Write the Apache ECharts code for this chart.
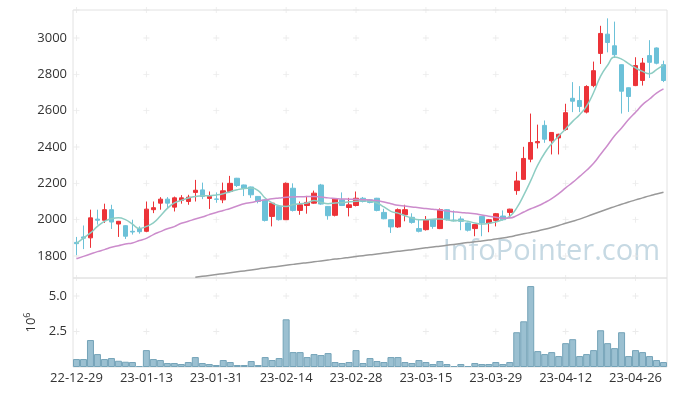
<!DOCTYPE html>
<html>
<head>
<meta charset="utf-8">
<script src="https://cdn.jsdelivr.net/npm/echarts@6/dist/echarts.min.js"></script>
<style>
html,body{margin:0;padding:0;background:#fff;}
#chart{width:677px;height:396px;}
</style>
</head>
<body>
<div id="chart"></div>
<script>
// ---- data ----
const dates = [
 '22-12-29','23-01-02','23-01-03','23-01-04','23-01-05','23-01-06','23-01-09','23-01-10','23-01-11','23-01-12',
 '23-01-13','23-01-16','23-01-17','23-01-18','23-01-19','23-01-20','23-01-25','23-01-26','23-01-27','23-01-30',
 '23-01-31','23-02-01','23-02-02','23-02-03','23-02-06','23-02-07','23-02-08','23-02-09','23-02-10','23-02-13',
 '23-02-14','23-02-15','23-02-16','23-02-17','23-02-20','23-02-21','23-02-22','23-02-23','23-02-24','23-02-27',
 '23-02-28','23-03-02','23-03-03','23-03-06','23-03-07','23-03-08','23-03-09','23-03-10','23-03-13','23-03-14',
 '23-03-15','23-03-16','23-03-17','23-03-20','23-03-21','23-03-22','23-03-23','23-03-24','23-03-27','23-03-28',
 '23-03-29','23-03-30','23-03-31','23-04-03','23-04-04','23-04-05','23-04-06','23-04-07','23-04-10','23-04-11',
 '23-04-12','23-04-13','23-04-14','23-04-17','23-04-18','23-04-19','23-04-20','23-04-21','23-04-24','23-04-25',
 '23-04-26','23-04-27','23-04-28','23-05-02','23-05-03'
];
// [open, close, low, high]
const ohlc = [
 [1875,1868,1805,1905],[1905,1898,1838,1968],[1900,2010,1845,2055],[2003,1997,1973,2055],[1997,2055,1982,2088],
 [2055,1987,1949,2082],[1976,1991,1905,1993],[1967,1909,1894,1970],[1936,1932,1918,2000],[1950,1934,1923,1963],
 [1936,2058,1931,2100],[2055,2066,2036,2100],[2091,2113,2055,2124],[2113,2091,2060,2124],[2069,2120,2045,2127],
 [2106,2120,2088,2135],[2100,2124,2082,2137],[2150,2162,2100,2219],[2164,2128,2113,2204],[2117,2128,2059,2155],
 [2114,2112,2093,2150],[2109,2159,2091,2204],[2155,2200,2150,2241],[2228,2188,2180,2230],[2191,2173,2130,2193],
 [2180,2137,2120,2182],[2128,2100,2090,2130],[2109,1996,1990,2112],[2018,2091,1963,2093],[2073,2000,1995,2080],
 [2000,2200,1998,2205],[2173,2051,2045,2200],[2051,2082,2027,2100],[2078,2095,2033,2131],[2091,2146,2088,2160],
 [2191,2086,2082,2197],[2073,2022,2000,2075],[2024,2113,2018,2118],[2109,2078,2075,2150],[2067,2082,2018,2120],
 [2078,2118,2073,2155],[2118,2100,2095,2125],[2109,2095,2090,2113],[2118,2051,2046,2120],[2040,2005,2002,2060],
 [2000,1960,1927,2002],[1960,2055,1955,2062],[2027,2055,1991,2082],[2013,1985,1978,2035],[1951,1936,1930,2004],
 [1945,2000,1940,2020],[2000,1963,1950,2002],[1951,2055,1948,2062],[2055,2000,1995,2058],[1998,1994,1990,2051],
 [2004,1991,1942,2018],[1982,1942,1935,1984],[1951,1973,1909,1975],[2018,1982,1909,2020],[1982,2000,1931,2004],
 [1996,2033,1963,2037],[2020,2000,1995,2051],[2040,2058,2009,2060],[2160,2213,2137,2264],[2222,2337,2219,2401],
 [2333,2425,2316,2584],[2423,2430,2392,2523],[2519,2443,2423,2546],[2434,2480,2359,2482],[2450,2470,2359,2473],
 [2496,2589,2490,2638],[2668,2652,2592,2757],[2656,2623,2592,2735],[2592,2733,2585,2740],[2738,2820,2729,2870],
 [2915,3025,2857,3067],[3021,2975,2921,3108],[2957,2908,2890,3090],[2853,2707,2584,2855],[2726,2678,2593,2728],
 [2738,2848,2735,2894],[2766,2862,2738,2890],[2903,2866,2780,2988],[2945,2861,2855,2948],[2853,2766,2757,2875]
];
const ma5 = [
 1870,1899,1927,1963,1991,2005,2010,2000,1976,1952,
 1963,1982,2020,2062,2092,2106,2119,2128,2132,2132,
 2136,2143,2154,2165,2172,2174,2160,2119,2092,2077,
 2073,2083,2088,2092,2106,2095,2088,2092,2093,2098,
 2101,2104,2101,2092,2070,2046,2036,2022,2009,2000,
 2000,2002,2004,2000,1994,1996,1991,1982,1976,1980,
 1987,2000,2018,2065,2135,2215,2300,2367,2418,2460,
 2499,2541,2578,2625,2700,2790,2850,2895,2884,2859,
 2835,2816,2803,2826,2850
];
const ma20 = [
 1785,1798,1811,1824,1835,1848,1857,1866,1872,1885,
 1897,1918,1934,1950,1962,1980,1991,2004,2015,2028,
 2040,2051,2062,2075,2088,2094,2103,2109,2115,2119,
 2123,2125,2126,2127,2128,2125,2120,2117,2114,2113,
 2112,2110,2108,2105,2097,2088,2079,2075,2070,2066,
 2061,2057,2053,2048,2044,2040,2037,2033,2026,2019,
 2013,2008,2009,2022,2042,2060,2075,2094,2116,2143,
 2175,2205,2238,2272,2310,2360,2410,2462,2505,2551,
 2591,2633,2664,2697,2720
];
const ma60 = [
 null,null,null,null,null,null,null,null,null,null,
 null,null,null,null,null,null,null,1683,1688,1693,
 1698,1703,1708,1713,1718,1723,1729,1734,1739,1744,
 1749,1754,1759,1763,1768,1773,1778,1783,1787,1792,
 1797,1802,1807,1811,1816,1821,1826,1830,1835,1840,
 1845,1850,1854,1859,1864,1869,1874,1878,1883,1888,
 1893,1899,1906,1914,1922,1930,1938,1947,1957,1968,
 1980,1991,2003,2017,2031,2045,2059,2072,2085,2097,
 2109,2120,2131,2141,2151
];
// volume, in millions (10^6)
const volume = [
 0.56,0.56,1.90,0.91,0.56,0.63,0.44,0.37,0.35,0.07,
 1.19,0.56,0.49,0.28,0.28,0.21,0.35,0.70,0.28,0.21,
 0.14,0.49,0.35,0.14,0.14,0.42,0.14,0.70,0.49,0.63,
 3.36,1.05,1.05,0.70,0.91,0.84,0.98,0.35,0.28,0.35,
 1.19,0.28,0.63,0.42,0.35,0.70,0.70,0.35,0.28,0.49,
 0.35,0.21,0.42,0.21,0.07,0.21,0.07,0.28,0.21,0.21,
 0.35,0.21,0.35,2.45,3.22,5.70,1.12,0.91,1.05,0.77,
 1.68,1.96,0.77,0.91,1.19,2.59,1.68,1.33,2.45,0.77,
 1.19,1.05,0.77,0.49,0.35
];
const priceTicks = [1800,2000,2200,2400,2600,2800,3000];
const volTicks = [2.5,5.0];
const labelTickIdx = [0,10,20,30,40,50,60,70,80];
const PRICE_MIN = 1679, PRICE_MAX = 3154;
const VOL_MAX = 6.27;

// ---- chart ----
const UP = '#ec3338', DOWN = '#6cc1d8';
const crossSym = 'path://M3,0h1v7h-1zM0,3h7v1h-7z';
const priceCross = [];
labelTickIdx.forEach(i => [PRICE_MIN].concat(priceTicks, [PRICE_MAX]).forEach(v => priceCross.push([i, v])));
const volCross = [];
labelTickIdx.forEach(i => volTicks.forEach(v => volCross.push([i, v])));

const font = '"Open Sans", "Liberation Sans", Arial, sans-serif';
const chart = echarts.init(document.getElementById('chart'), null, {renderer: 'canvas'});
chart.setOption({
  animation: false,
  backgroundColor: '#fff',
  textStyle: {fontFamily: font},
  grid: [
    {left: 73, right: 10, top: 10, height: 268, show: true, borderColor: '#e2e2e2', borderWidth: 1, backgroundColor: 'transparent'},
    {left: 73, right: 10, top: 278, height: 89, show: true, borderColor: '#e2e2e2', borderWidth: 1, backgroundColor: 'transparent'}
  ],
  xAxis: [
    {type: 'category', gridIndex: 0, data: dates, boundaryGap: true,
     axisLine: {show: false}, axisTick: {show: false}, axisLabel: {show: false}, splitLine: {show: false}},
    {type: 'category', gridIndex: 1, data: dates, boundaryGap: true,
     axisLine: {show: false}, axisTick: {show: false}, splitLine: {show: false},
     axisLabel: {interval: 9, color: '#333', fontSize: 13, margin: 5, fontFamily: font}}
  ],
  yAxis: [
    {type: 'value', gridIndex: 0, min: PRICE_MIN, max: PRICE_MAX, minInterval: 200, maxInterval: 200, splitNumber: 7,
     axisLine: {show: false}, axisTick: {show: false}, splitLine: {show: false},
     axisLabel: {color: '#333', fontSize: 13, margin: 6, showMinLabel: false, showMaxLabel: false, fontFamily: font,
       formatter: v => priceTicks.indexOf(v) >= 0 ? String(v) : ''}},
    {type: 'value', gridIndex: 1, min: 0, max: VOL_MAX, interval: 2.5,
     axisLine: {show: false}, axisTick: {show: false}, splitLine: {show: false},
     axisLabel: {color: '#333', fontSize: 13, margin: 6, showMinLabel: false, showMaxLabel: false, fontFamily: font,
       formatter: v => volTicks.indexOf(v) >= 0 ? v.toFixed(1) : ''},
     name: '{b|10}{s|6}', nameLocation: 'middle', nameRotate: 90, nameGap: 32,
     nameTextStyle: {rich: {b: {fontSize: 13, color: '#333', fontFamily: font},
                            s: {fontSize: 9, color: '#333', fontFamily: font, padding: [0, 0, 8, 0]}}}}
  ],
  graphic: [{
    type: 'text', right: 17, top: 237, z: 0, silent: true,
    style: {text: 'InfoPointer.com', fill: '#c6d9e3', font: '29px "Open Sans", "Liberation Sans", Arial, sans-serif'}
  }],
  series: [
    {type: 'scatter', xAxisIndex: 0, yAxisIndex: 0, data: priceCross, symbol: crossSym, symbolSize: 6,
     itemStyle: {color: '#e6e6e6'}, silent: true, clip: false, z: 1},
    {type: 'scatter', xAxisIndex: 1, yAxisIndex: 1, data: volCross, symbol: crossSym, symbolSize: 6,
     itemStyle: {color: '#e6e6e6'}, silent: true, clip: false, z: 1},
    {type: 'candlestick', xAxisIndex: 0, yAxisIndex: 0, data: ohlc, barWidth: 5,
     itemStyle: {color: UP, color0: DOWN, borderColor: UP, borderColor0: DOWN, borderWidth: 1}, z: 3},
    {type: 'line', name: 'MA5', xAxisIndex: 0, yAxisIndex: 0, data: ma5, showSymbol: false, smooth: true,
     lineStyle: {color: '#8ecdc3', width: 1.5}, z: 4},
    {type: 'line', name: 'MA20', xAxisIndex: 0, yAxisIndex: 0, data: ma20, showSymbol: false, smooth: true,
     lineStyle: {color: '#cc8ccc', width: 1.5}, z: 4},
    {type: 'line', name: 'MA60', xAxisIndex: 0, yAxisIndex: 0, data: ma60, showSymbol: false, smooth: true,
     lineStyle: {color: '#999999', width: 1.5}, z: 4},
    {type: 'bar', xAxisIndex: 1, yAxisIndex: 1, data: volume, barCategoryGap: '0%',
     itemStyle: {color: '#9bc0d1', borderColor: '#74a3b8', borderWidth: 1}, z: 3}
  ]
});
</script>
</body>
</html>
